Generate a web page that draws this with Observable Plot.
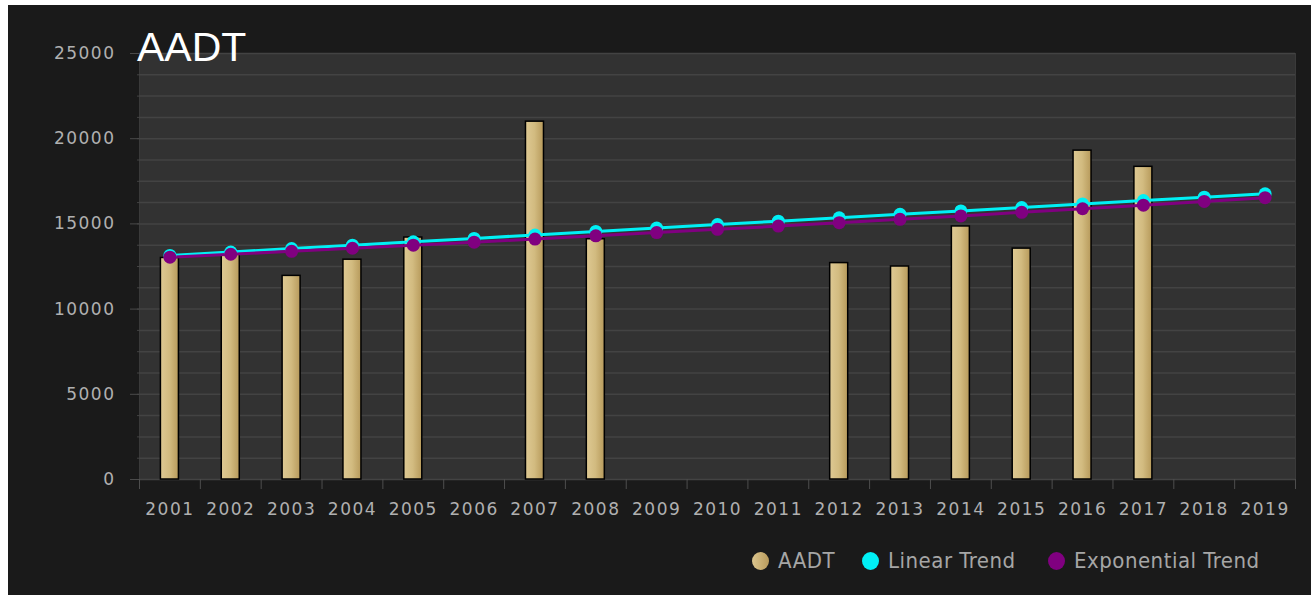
<!DOCTYPE html>
<html>
<head>
<meta charset="utf-8">
<script src="https://cdn.jsdelivr.net/npm/d3@7"></script>
<script src="https://cdn.jsdelivr.net/npm/@observablehq/plot@0.6"></script>
<style>
  html, body { margin: 0; padding: 0; background: #ffffff; }
  #panel { position: absolute; left: 8px; top: 5px; width: 1303px; height: 590px; background: #1a1a1a; overflow: hidden; }
  #chart { position: absolute; left: 0; top: 0; }
  #title { position: absolute; left: 129px; top: 22px; font: 41px/41px "Liberation Sans", Arial, sans-serif; color: #ffffff; white-space: nowrap; }
  .leg { position: absolute; top: 543px; height: 25px; display: flex; align-items: center; font: 22px/25px "Liberation Sans Narrow", "DejaVu Sans Condensed", sans-serif; color: #a6a6a6; white-space: nowrap; letter-spacing: 0.5px; }
  .dot { width: 17px; height: 18px; border-radius: 50%; margin-right: 9px; flex: none; }
</style>
</head>
<body>
<div id="panel">
  <div id="chart"></div>
  <div id="title">AADT</div>
  <div id="legend"></div>
</div>
<script>
// ---- data ----
const years = [2001, 2002, 2003, 2004, 2005, 2006, 2007, 2008, 2009, 2010,
               2011, 2012, 2013, 2014, 2015, 2016, 2017, 2018, 2019];
const aadt = [13000, 13200, 11950, 12900, 14200, null, 21000, 14100, null, null,
              null, 12700, 12500, 14850, 13550, 19300, 18350, null, null];
const linearTrend = [13150, 13350, 13550, 13750, 13950, 14150, 14350, 14560, 14760, 14960,
                     15160, 15360, 15560, 15760, 15960, 16170, 16370, 16570, 16770];
const exponentialTrend = [13050, 13220, 13390, 13570, 13750, 13930, 14110, 14300, 14490, 14680,
                          14870, 15070, 15270, 15470, 15680, 15890, 16100, 16320, 16540];
const yTickLabels = [0, 5000, 10000, 15000, 20000, 25000];
const gridValues = [0, 1250, 2500, 3750, 5000, 6250, 7500, 8750, 10000, 11250, 12500, 13750,
                    15000, 16250, 17500, 18750, 20000, 21250, 22500, 23750, 25000];
const seriesNames = ["AADT", "Linear Trend", "Exponential Trend"];
const seriesColors = ["#cfb878", "#00f0f5", "#800080"];

// ---- tables ----
const barData = years.map((y, i) => ({year: y, value: aadt[i]})).filter(d => d.value != null);
const linData = years.map((y, i) => ({year: y, value: linearTrend[i]}));
const expData = years.map((y, i) => ({year: y, value: exponentialTrend[i]}));

const W = 1303, H = 520, mL = 131, mR = 16, mT = 48, mB = 46;
const step = (W - mL - mR) / years.length;
const barW = 18;
const inset = (step - barW) / 2;

const chart = Plot.plot({
  width: W, height: H,
  marginLeft: mL, marginRight: mR, marginTop: mT, marginBottom: mB,
  style: {background: "transparent", fontFamily: "'DejaVu Sans', sans-serif", fontSize: "17px", letterSpacing: "1.5px", overflow: "visible"},
  x: {type: "band", domain: years, padding: 0, round: false, label: null},
  y: {domain: [0, 25000], label: null},
  marks: [
    Plot.frame({fill: "#323232", stroke: "#3a3a3a"}),
    Plot.ruleY(gridValues, {stroke: "#434343", strokeWidth: 1.5}),
    Plot.axisY({ticks: gridValues, tickSize: 2, tickFormat: () => "", stroke: "#434343", label: null}),
    Plot.axisY({ticks: yTickLabels, tickSize: 9, tickPadding: 15, tickFormat: d => String(d), stroke: "#4a4a4a", fill: "#b0b0b0", label: null}),
    Plot.axisX({ticks: years, tickSize: 10, tickFormat: () => "", stroke: "#4e4e4e", dx: -step / 2, label: null}),
    Plot.axisX({ticks: [years[years.length - 1]], tickSize: 10, tickFormat: () => "", stroke: "#4e4e4e", dx: step / 2, label: null}),
    Plot.axisX({ticks: years, tickSize: 0, tickPadding: 23, tickFormat: d => String(d), fill: "#b0b0b0", label: null}),
    Plot.barY(barData, {x: "year", y: "value", fill: "url(#barGrad)", stroke: "#000000", strokeWidth: 1.5, insetLeft: inset, insetRight: inset}),
    Plot.line(linData, {x: "year", y: "value", stroke: seriesColors[1], strokeWidth: 3}),
    Plot.line(expData, {x: "year", y: "value", stroke: seriesColors[2], strokeWidth: 3}),
    Plot.dot(linData, {x: "year", y: "value", r: 6.5, fill: seriesColors[1]}),
    Plot.dot(expData, {x: "year", y: "value", r: 6.5, fill: seriesColors[2]})
  ]
});

d3.select(chart).insert("defs", ":first-child").html(
  '<linearGradient id="barGrad" x1="0" x2="1" y1="0" y2="0">' +
  '<stop offset="0" stop-color="#dec993"/><stop offset="0.5" stop-color="#d2bb80"/><stop offset="1" stop-color="#b79a5b"/>' +
  '</linearGradient>'
);
document.getElementById("chart").appendChild(chart);

// ---- legend ----
const legendLeft = [744, 854, 1040];
const legend = document.getElementById("legend");
seriesNames.forEach((name, i) => {
  const item = document.createElement("div");
  item.className = "leg";
  item.style.left = legendLeft[i] + "px";
  const dot = document.createElement("span");
  dot.className = "dot";
  dot.style.background = i === 0 ? "linear-gradient(90deg, #dcc68e, #b99b5c)" : seriesColors[i];
  item.appendChild(dot);
  item.appendChild(document.createTextNode(name));
  legend.appendChild(item);
});
</script>
</body>
</html>
